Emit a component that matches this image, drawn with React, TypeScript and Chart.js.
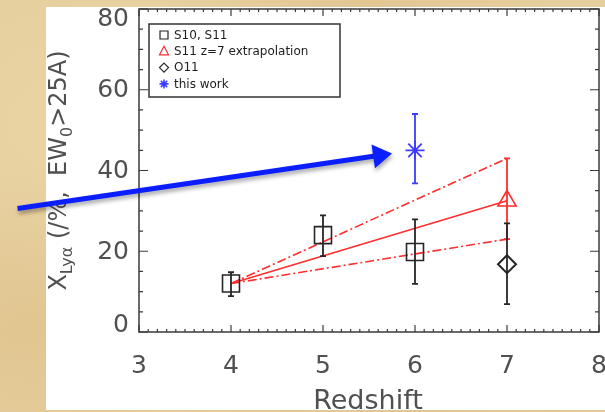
import { useEffect, useRef } from 'react';
import { Chart, registerables } from 'chart.js';

Chart.register(...registerables);

// ---- data ----
const redshiftS = [4, 5, 6];
const fracS = [12, 24, 19.8];
const fracSLow = [8.9, 18.8, 11.9];
const fracSHigh = [14.8, 28.9, 27.9];

const redshiftExt = [7];
const fracExt = [32.5];
const fracExtLow = [23];
const fracExtHigh = [43];

const redshiftO = [7];
const fracO = [16.8];
const fracOLow = [6.9];
const fracOHigh = [26.9];

const redshiftThis = [6];
const fracThis = [45];
const fracThisLow = [36.8];
const fracThisHigh = [54];

const trendZ = [4, 7];
const trendMid = [12, 32.5];
const trendUpper = [12, 43];
const trendLower = [12, 23];

const arrowZ = [1.68, 5.75];
const arrowFrac = [30.6, 44.2];

const xTickValues = [3, 4, 5, 6, 7, 8];
const yTickValues = [0, 20, 40, 60, 80];

const legendLabels = ['S10, S11', 'S11 z=7 extrapolation', 'O11', 'this work'];

const RED = 'rgb(255,45,45)';
const BLACK = '#262626';
const BLUE = 'rgb(60,60,255)';
const FONT = "'DejaVu Sans', sans-serif";
const LABEL_COLOR = '#505050';

const pts = (xs: number[], ys: number[]) => xs.map((x, i) => ({ x, y: ys[i] }));

const framePlugin = {
  id: 'frame',
  beforeDatasetsDraw(chart: any) {
    const { ctx, chartArea: a, scales } = chart;
    const x = scales.x, y = scales.y;
    ctx.save();
    ctx.strokeStyle = '#3a3a3a';
    ctx.lineWidth = 1.5;
    ctx.strokeRect(a.left, a.top, a.right - a.left, a.bottom - a.top);
    ctx.lineWidth = 1.2;
    ctx.beginPath();
    for (let i = 0; i <= 50; i++) {
      const v = 3 + i / 10;
      const px = x.getPixelForValue(v);
      const len = i % 10 === 0 ? 7 : 3;
      ctx.moveTo(px, a.bottom);
      ctx.lineTo(px, a.bottom - len);
      ctx.moveTo(px, a.top);
      ctx.lineTo(px, a.top + len);
    }
    for (let v = 0; v <= 80; v += 5) {
      const py = y.getPixelForValue(v);
      const len = v % 20 === 0 ? 9 : 4;
      ctx.moveTo(a.left, py);
      ctx.lineTo(a.left + len, py);
      ctx.moveTo(a.right, py);
      ctx.lineTo(a.right - len, py);
    }
    ctx.stroke();

    // tick labels (real text, positioned from the scales)
    ctx.fillStyle = LABEL_COLOR;
    ctx.font = `25px ${FONT}`;
    ctx.textAlign = 'center';
    ctx.textBaseline = 'middle';
    xTickValues.forEach((v) => {
      ctx.fillText(String(v), x.getPixelForValue(v), a.bottom + 34);
    });
    ctx.textAlign = 'right';
    yTickValues.forEach((v) => {
      const py = Math.min(Math.max(y.getPixelForValue(v), a.top + 9), a.bottom - 8);
      ctx.fillText(String(v), a.left - 10, py + 1);
    });
    ctx.restore();
  },
};

const errorBarPlugin = {
  id: 'errorBars',
  afterDatasetsDraw(chart: any) {
    const { ctx, scales } = chart;
    const x = scales.x, y = scales.y;
    const ds = chart.data.datasets
      .filter((d: any) => d.errLow)
      .sort((p: any, q: any) => p.errDrawOrder - q.errDrawOrder);
    ctx.save();
    for (const d of ds) {
      ctx.strokeStyle = d.errColor;
      ctx.lineWidth = 1.8;
      d.data.forEach((p: any, k: number) => {
        const px = x.getPixelForValue(p.x);
        const lo = y.getPixelForValue(d.errLow[k]);
        const hi = y.getPixelForValue(d.errHigh[k]);
        ctx.beginPath();
        ctx.moveTo(px, lo);
        ctx.lineTo(px, hi);
        ctx.moveTo(px - 3, lo);
        ctx.lineTo(px + 3, lo);
        ctx.moveTo(px - 3, hi);
        ctx.lineTo(px + 3, hi);
        ctx.stroke();
      });
    }
    ctx.restore();
  },
};

const arrowPlugin = {
  id: 'arrow',
  afterDraw(chart: any) {
    const { ctx, scales } = chart;
    const x0 = scales.x.getPixelForValue(arrowZ[0]);
    const y0 = scales.y.getPixelForValue(arrowFrac[0]);
    const x1 = scales.x.getPixelForValue(arrowZ[1]);
    const y1 = scales.y.getPixelForValue(arrowFrac[1]);
    const ang = Math.atan2(y1 - y0, x1 - x0);
    const headLen = 19, headHalf = 12;
    const bx = x1 - Math.cos(ang) * headLen;
    const by = y1 - Math.sin(ang) * headLen;
    ctx.save();
    ctx.shadowColor = 'rgba(0,0,0,0.35)';
    ctx.shadowBlur = 4;
    ctx.shadowOffsetX = 1;
    ctx.shadowOffsetY = 3;
    ctx.strokeStyle = 'rgb(10,30,255)';
    ctx.fillStyle = 'rgb(10,30,255)';
    ctx.lineWidth = 5;
    ctx.beginPath();
    ctx.moveTo(x0, y0);
    ctx.lineTo(bx + Math.cos(ang) * 2, by + Math.sin(ang) * 2);
    ctx.stroke();
    ctx.beginPath();
    ctx.moveTo(x1, y1);
    ctx.lineTo(bx - Math.sin(ang) * headHalf, by + Math.cos(ang) * headHalf);
    ctx.lineTo(bx + Math.sin(ang) * headHalf, by - Math.cos(ang) * headHalf);
    ctx.closePath();
    ctx.fill();
    ctx.restore();
  },
};

function drawSymbol(ctx: CanvasRenderingContext2D, kind: string, cx: number, cy: number, color: string) {
  ctx.save();
  ctx.strokeStyle = color;
  ctx.fillStyle = color;
  ctx.lineWidth = 1.2;
  ctx.beginPath();
  if (kind === 'rect') {
    ctx.rect(cx - 4, cy - 4, 8, 8);
    ctx.stroke();
  } else if (kind === 'triangle') {
    ctx.moveTo(cx, cy - 5);
    ctx.lineTo(cx + 4.5, cy + 3.5);
    ctx.lineTo(cx - 4.5, cy + 3.5);
    ctx.closePath();
    ctx.stroke();
  } else if (kind === 'rectRot') {
    ctx.moveTo(cx, cy - 4.5);
    ctx.lineTo(cx + 4.5, cy);
    ctx.lineTo(cx, cy + 4.5);
    ctx.lineTo(cx - 4.5, cy);
    ctx.closePath();
    ctx.stroke();
  } else {
    const r = 4.5;
    for (let k = 0; k < 4; k++) {
      const t = (k * Math.PI) / 4;
      ctx.moveTo(cx - Math.cos(t) * r, cy - Math.sin(t) * r);
      ctx.lineTo(cx + Math.cos(t) * r, cy + Math.sin(t) * r);
    }
    ctx.lineWidth = 1.6;
    ctx.stroke();
  }
  ctx.restore();
}

const legendPlugin = {
  id: 'boxLegend',
  afterDatasetsDraw(chart: any) {
    const { ctx, chartArea: a } = chart;
    const items = chart.data.datasets
      .filter((d: any) => d.legendRow != null)
      .sort((p: any, q: any) => p.legendRow - q.legendRow);
    const left = a.left + 10, top = a.top + 15;
    const w = 191, rowH = 16.3;
    const h = 73;
    ctx.save();
    ctx.fillStyle = '#fff';
    ctx.fillRect(left, top, w, h);
    ctx.strokeStyle = '#333';
    ctx.lineWidth = 1.5;
    ctx.strokeRect(left, top, w, h);
    ctx.font = `12px ${FONT}`;
    ctx.textBaseline = 'middle';
    items.forEach((d: any, k: number) => {
      const cy = top + 11 + k * rowH;
      drawSymbol(ctx, d.pointStyle, left + 15, cy, d.borderColor);
      ctx.fillStyle = '#1e1e1e';
      ctx.fillText(legendLabels[d.legendRow], left + 25, cy + 0.5);
    });
    ctx.restore();
  },
};

const titlePlugin = {
  id: 'axisTitles',
  afterDraw(chart: any) {
    const { ctx, chartArea: a } = chart;
    ctx.save();
    ctx.fillStyle = LABEL_COLOR;
    // x title
    ctx.font = `27px ${FONT}`;
    ctx.textAlign = 'center';
    ctx.textBaseline = 'alphabetic';
    ctx.beginPath();
    ctx.rect(0, 0, chart.width, 410);
    ctx.clip();
    ctx.fillText('Redshift', (a.left + a.right) / 2 - 1, 409);
    // y title with subscripts
    const big = 24, small = 16;
    const segs = [
      { t: 'X', s: big, dy: 0 },
      { t: 'Lyα', s: small, dy: 6 },
      { t: ' (/%,  EW', s: big, dy: 0 },
      { t: '0', s: small, dy: 6 },
      { t: '>25A)', s: big, dy: 0 },
    ];
    let total = 0;
    const widths = segs.map((sg) => {
      ctx.font = `${sg.s}px ${FONT}`;
      const wd = ctx.measureText(sg.t).width;
      total += wd;
      return wd;
    });
    ctx.translate(66, (a.top + a.bottom) / 2);
    ctx.rotate(-Math.PI / 2);
    ctx.textAlign = 'left';
    let cx = -total / 2;
    segs.forEach((sg, i) => {
      ctx.font = `${sg.s}px ${FONT}`;
      ctx.fillText(sg.t, cx, sg.dy);
      cx += widths[i];
    });
    ctx.restore();
  },
};

export default function App() {
  const ref = useRef<HTMLCanvasElement | null>(null);

  useEffect(() => {
    document.body.style.margin = '0';
    const canvas = ref.current!;
    const chart = new Chart(canvas, {
      type: 'scatter',
      data: {
        datasets: [
          {
            label: legendLabels[3],
            legendRow: 3,
            data: pts(redshiftThis, fracThis),
            pointStyle: 'star',
            pointRadius: 9.5,
            borderColor: BLUE,
            backgroundColor: BLUE,
            borderWidth: 1.8,
            errLow: fracThisLow,
            errHigh: fracThisHigh,
            errColor: BLUE,
            errDrawOrder: 3,
            order: 0,
          } as any,
          {
            label: legendLabels[0],
            legendRow: 0,
            data: pts(redshiftS, fracS),
            pointStyle: 'rect',
            pointRadius: 12,
            borderColor: BLACK,
            backgroundColor: 'rgba(0,0,0,0)',
            borderWidth: 1.6,
            errLow: fracSLow,
            errHigh: fracSHigh,
            errColor: BLACK,
            errDrawOrder: 1,
            order: 0,
          } as any,
          {
            label: legendLabels[2],
            legendRow: 2,
            data: pts(redshiftO, fracO),
            pointStyle: 'rectRot',
            pointRadius: 9,
            borderColor: BLACK,
            backgroundColor: 'rgba(0,0,0,0)',
            borderWidth: 2,
            errLow: fracOLow,
            errHigh: fracOHigh,
            errColor: BLACK,
            errDrawOrder: 2,
            order: 0,
          } as any,
          {
            label: legendLabels[1],
            legendRow: 1,
            data: pts(redshiftExt, fracExt),
            pointStyle: 'triangle',
            pointRadius: 10.5,
            borderColor: RED,
            backgroundColor: 'rgba(0,0,0,0)',
            borderWidth: 1.6,
            errLow: fracExtLow,
            errHigh: fracExtHigh,
            errColor: RED,
            errDrawOrder: 0,
            order: 0,
          } as any,
          {
            label: 'trend',
            data: pts(trendZ, trendMid),
            showLine: true,
            borderColor: RED,
            borderWidth: 1.6,
            pointRadius: 0,
            order: 1,
          },
          {
            label: 'upper',
            data: pts(trendZ, trendUpper),
            showLine: true,
            borderColor: RED,
            borderWidth: 1.6,
            borderDash: [9, 3, 2, 3],
            pointRadius: 0,
            order: 1,
          },
          {
            label: 'lower',
            data: pts(trendZ, trendLower),
            showLine: true,
            borderColor: RED,
            borderWidth: 1.6,
            borderDash: [9, 3, 2, 3],
            pointRadius: 0,
            order: 1,
          },
        ],
      },
      options: {
        animation: false,
        responsive: false,
        devicePixelRatio: 1,
        layout: { autoPadding: false, padding: { left: 0, right: 6, top: 9, bottom: 0 } },
        plugins: {
          legend: { display: false },
          tooltip: { enabled: false },
        },
        scales: {
          x: {
            type: 'linear',
            min: 3,
            max: 8,
            afterBuildTicks: (s: any) => {
              s.ticks = xTickValues.map((v) => ({ value: v }));
            },
            afterFit: (s: any) => {
              s.height = 80;
              s.paddingLeft = 0;
              s.paddingRight = 0;
            },
            grid: { display: false, drawTicks: false },
            border: { display: false },
            ticks: { display: false },
          },
          y: {
            type: 'linear',
            min: 0,
            max: 80,
            afterBuildTicks: (s: any) => {
              s.ticks = yTickValues.map((v) => ({ value: v }));
            },
            afterFit: (s: any) => {
              s.width = 139;
              s.paddingTop = 0;
              s.paddingBottom = 0;
            },
            grid: { display: false, drawTicks: false },
            border: { display: false },
            ticks: { display: false },
          },
        },
      },
      plugins: [framePlugin, errorBarPlugin, legendPlugin, titlePlugin, arrowPlugin],
    });
    return () => chart.destroy();
  }, []);

  const parchment =
    'radial-gradient(ellipse at 20% 30%, rgba(240,220,175,0.45), rgba(240,220,175,0) 40%),' +
    'radial-gradient(ellipse at 70% 90%, rgba(205,170,110,0.3), rgba(205,170,110,0) 45%),' +
    'radial-gradient(ellipse at 5% 80%, rgba(215,180,120,0.35), rgba(215,180,120,0) 35%),' +
    'radial-gradient(ellipse at 60% 5%, rgba(215,180,120,0.3), rgba(215,180,120,0) 40%),' +
    '#e6cf9e';

  return (
    <div style={{ position: 'relative', width: 605, height: 412, background: parchment, overflow: 'hidden' }}>
      <div style={{ position: 'absolute', left: 46, top: 7, width: 559, height: 403, background: '#fff' }} />
      <canvas ref={ref} width={605} height={412} style={{ position: 'absolute', left: 0, top: 0, width: 605, height: 412 }} />
    </div>
  );
}
